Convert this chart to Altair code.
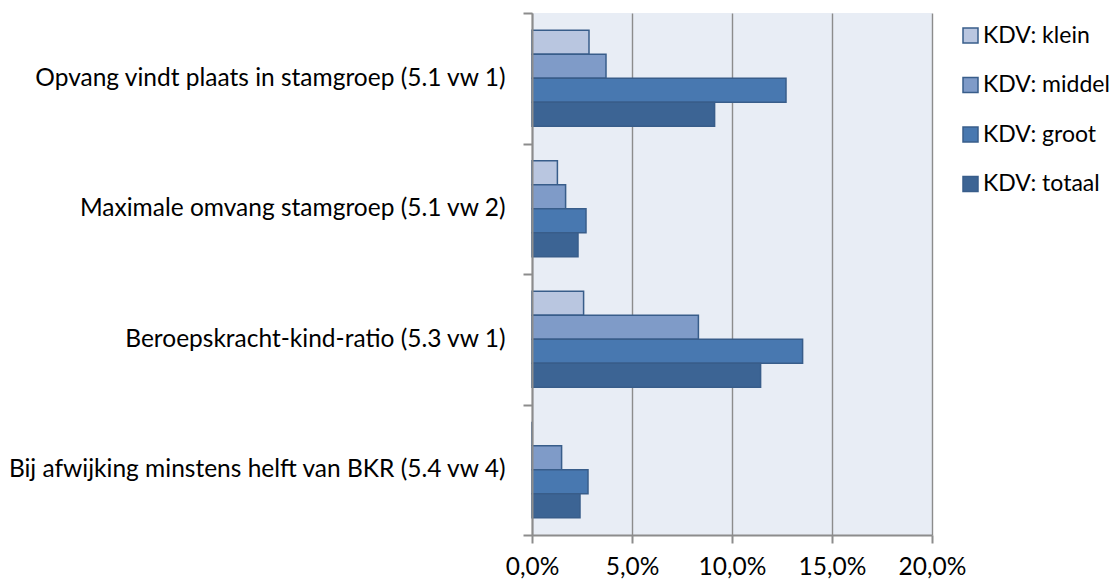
import altair as alt
import pandas as pd

categories = [
    "Opvang vindt plaats in stamgroep (5.1 vw 1)",
    "Maximale omvang stamgroep (5.1 vw 2)",
    "Beroepskracht-kind-ratio (5.3 vw 1)",
    "Bij afwijking minstens helft van BKR (5.4 vw 4)",
]
series = ["KDV: klein", "KDV: middel", "KDV: groot", "KDV: totaal"]
klein = [2.85, 1.27, 2.58, 0.0]
middel = [3.70, 1.68, 8.32, 1.48]
groot = [12.70, 2.70, 13.53, 2.80]
totaal = [9.13, 2.30, 11.43, 2.40]
x_ticks = [0, 0.05, 0.10, 0.15, 0.20]
colors = ["#B9C6E0", "#7F9BC8", "#4878B0", "#3C6494"]

rows = []
for s, vals in zip(series, [klein, middel, groot, totaal]):
    for c, v in zip(categories, vals):
        rows.append({"category": c, "series": s, "value": v / 100})
df = pd.DataFrame(rows)

FONT = "Lato"
FS = 24.5
GRAY = "#8c8c8c"

chart = alt.Chart(df).mark_bar(stroke="#385D8A", strokeWidth=1.5).encode(
    y=alt.Y(
        "category:N",
        sort=categories,
        scale=alt.Scale(paddingInner=0, paddingOuter=0),
        axis=alt.Axis(
            title=None, tickBand="extent", labelFont=FONT, labelFontSize=FS,
            labelColor="black", labelPadding=18, tickSize=9, tickWidth=2,
            tickColor=GRAY, domainColor=GRAY, domainWidth=2, labelLimit=700,
            grid=False, zindex=1,
        ),
    ),
    x=alt.X(
        "value:Q",
        scale=alt.Scale(domain=[0, 0.2], nice=False),
        axis=alt.Axis(
            title=None, values=x_ticks,
            labelExpr="replace(format(datum.value, '.1%'), '.', ',')",
            labelOverlap=False, labelFlush=False,
            grid=True, gridColor=GRAY, gridWidth=1.4, gridOpacity=1,
            labelFont=FONT, labelFontSize=FS, labelColor="black",
            labelPadding=12, tickSize=8, tickWidth=2, tickColor=GRAY,
            domainColor=GRAY, domainWidth=2,
        ),
    ),
    yOffset=alt.YOffset("series:N", sort=series,
                        scale=alt.Scale(paddingInner=0, paddingOuter=0.719)),
    color=alt.Color(
        "series:N", sort=series,
        scale=alt.Scale(domain=series, range=colors),
        legend=alt.Legend(
            title=None, orient="none", legendX=427, legendY=11,
            symbolType="square", symbolSize=225, symbolStrokeColor="#385D8A",
            symbolStrokeWidth=1.5, symbolOpacity=1, labelFont=FONT,
            labelFontSize=23, labelColor="black", rowPadding=25.5,
            labelOffset=1, labelLimit=300,
        ),
    ),
).properties(
    width=400, height=522,
    autosize=alt.AutoSizeParams(type="none"),
    padding={"left": 524, "top": 5, "right": 178, "bottom": 45},
).configure_view(stroke=None, fill="#E8EDF5")

chart.save("out.html", embed_options={"renderer": "svg", "actions": False})
